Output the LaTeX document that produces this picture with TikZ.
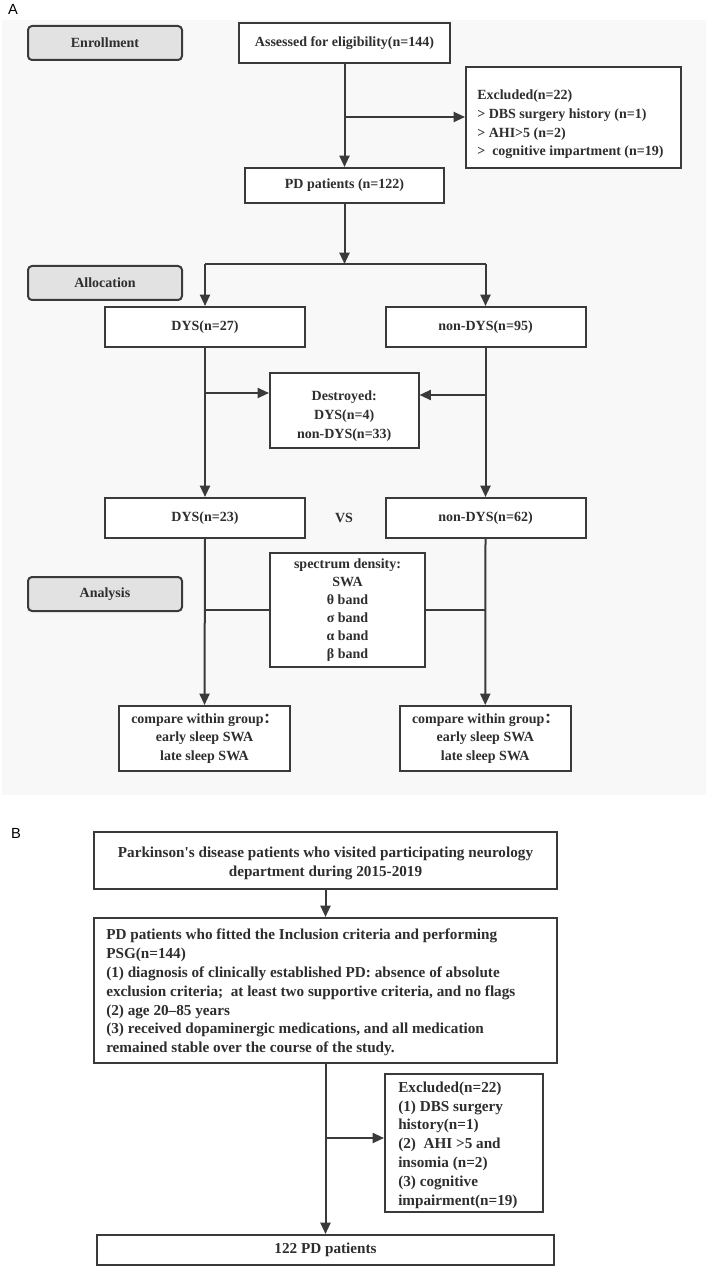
\documentclass[tikz,border=0pt]{standalone}
\usepackage{fontspec}
\setmainfont{Liberation Serif}
\newfontfamily\labelfont{Liberation Sans}
\newfontfamily\cjkfont{Noto Sans CJK SC}
\usetikzlibrary{arrows.meta}
\definecolor{ink}{HTML}{3A3A3A}
\definecolor{txt}{HTML}{2E2E2E}
\definecolor{panelbg}{HTML}{F8F8F8}
\definecolor{tagfill}{HTML}{E2E2E2}
\tikzset{
  every node/.style={text=txt, font=\fontsize{10.5}{13.9}\selectfont\bfseries},
  bfont/.style={font=\fontsize{11.4}{14.1}\selectfont\bfseries},
  box/.style={draw=ink, line width=1.5pt, fill=white, inner sep=0pt, align=center},
  tagbox/.style={draw=ink, line width=1.5pt, fill=tagfill, rounded corners=3pt, inner sep=0pt, align=center, minimum width=115.5pt, minimum height=25.5pt},
  conn/.style={draw=ink, line width=1.5pt},
  arr/.style={conn, -{Triangle[length=8.5pt,width=7.5pt]}},
  txtleft/.style={align=left, inner sep=0pt},
  panellabel/.style={font=\labelfont\fontsize{11}{13}\selectfont, text=black}
}
\begin{document}
\begin{tikzpicture}[x=0.75pt, y=-0.75pt]
\useasboundingbox (0,0) rectangle (709,1269);
\fill[white] (0,0) rectangle (709,1269);
% Panel A background
\fill[panelbg] (2,20) rectangle (706,795);
\node[panellabel] (labA) at (13,9) {A};

% side tags
\node[tagbox] (enroll) at (105,43) {Enrollment};
\node[tagbox] (alloc) at (105,283) {Allocation};
\node[tagbox] (analysis) at (105,594) {Analysis};

% main flow
\node[box, minimum width=158.25pt, minimum height=30pt] (assess) at (344.5,43) {Assessed for eligibility(n=144)};
\node[box, minimum width=161.25pt, minimum height=75.75pt] (excl) at (573.5,117.5) {};
\node[txtleft, anchor=north west] (exclT) at (477,90) {Excluded(n=22)\\
{>} DBS surgery history (n=1)\\
{>} AHI{>}5 (n=2)\\
{>}\ \ cognitive impartment (n=19)};
\node[box, minimum width=149.25pt, minimum height=26.25pt] (pd) at (344.5,185.5) {PD patients (n=122)};

\coordinate (barC) at (344.5,264);
\coordinate (barL) at (205,264);
\coordinate (barR) at (485.5,264);
\coordinate (exclJ) at (344.5,117);

\node[box, minimum width=150pt, minimum height=30pt] (dys27) at (205,327) {DYS(n=27)};
\node[box, minimum width=150pt, minimum height=30pt] (ndys95) at (485.5,327) {non-DYS(n=95)};

\node[box, minimum width=111.4pt, minimum height=56.25pt] (destr) at (344.25,410.5) {};
\node[align=center, inner sep=0pt, font=\fontsize{10.5}{14}\selectfont\bfseries] (destrT) at (344.25,416) {Destroyed:\\DYS(n=4)\\non-DYS(n=33)};

\node[box, minimum width=150pt, minimum height=30pt] (dys23) at (205,518) {DYS(n=23)};
\node[box, minimum width=150pt, minimum height=30pt] (ndys62) at (485.5,518) {non-DYS(n=62)};
\node (vs) at (344,518) {VS};

\node[box, minimum width=116.25pt, minimum height=85.5pt, font=\fontsize{10.5}{13.6}\selectfont\bfseries] (spec) at (347.5,610) {spectrum density:\\SWA\\θ band\\σ band\\α band\\β band};

\node[box, minimum width=128.25pt, minimum height=48.75pt] (cmpL) at (204.5,738.5) {compare within group{\cjkfont\bfseries ：}\\early sleep SWA\\late sleep SWA};
\node[box, minimum width=128.6pt, minimum height=48.75pt] (cmpR) at (485.25,738.5) {compare within group{\cjkfont\bfseries ：}\\early sleep SWA\\late sleep SWA};

\coordinate (dL) at (205,393);
\coordinate (dR) at (485.5,395);
\coordinate (sL) at (205,610);
\coordinate (sR) at (485.5,610);

\draw[arr] (assess.south) -- (pd.north);
\draw[arr] (exclJ) -- (excl.west |- exclJ);
\draw[arr] (pd.south) -- (barC);
\draw[conn] (barL) -- (barR);
\draw[arr] (barL) -- (dys27.north);
\draw[arr] (barR) -- (ndys95.north);
\draw[arr] (dys27.south) -- (dys23.north);
\draw[arr] (ndys95.south) -- (ndys62.north);
\draw[arr] (dL) -- (destr.west |- dL);
\draw[arr] (dR) -- (destr.east |- dR);
\draw[arr] (dys23.south) -- (cmpL.north);
\draw[arr] (ndys62.south) -- (cmpR.north);
\draw[conn] (sL) -- (spec.west |- sL);
\draw[conn] (spec.east |- sR) -- (sR);

% Panel B
\node[panellabel] (labB) at (16,833) {B};
\node[box, minimum width=347.25pt, minimum height=42.75pt] (b1) at (325.5,860.5) {};
\node[bfont, align=center, inner sep=0pt] (b1T) at (325.5,863) {Parkinson\textquotesingle s disease patients who visited participating neurology\\department during 2015-2019};
\node[box, minimum width=347.25pt, minimum height=108.75pt] (b2) at (325.5,990.5) {};
\node[bfont, txtleft, anchor=west] (b2T) at (106,992.5) {PD patients who fitted the Inclusion criteria and performing\\
PSG(n=144)\\
(1) diagnosis of clinically established PD: absence of absolute\\
exclusion criteria;\ \ at least two supportive criteria, and no flags\\
(2) age 20–85 years\\
(3) received dopaminergic medications, and all medication\\
remained stable over the course of the study.};
\node[box, minimum width=118.5pt, minimum height=103.5pt] (b3) at (464,1143) {};
\node[bfont, txtleft, anchor=west] (b3T) at (398,1145) {Excluded(n=22)\\
(1) DBS surgery\\
history(n=1)\\
(2)\ \ AHI {>}5 and\\
insomia (n=2)\\
(3) cognitive\\
impairment(n=19)};
\node[box, bfont, minimum width=342.75pt, minimum height=22.5pt] (b4) at (325.5,1250) {122 PD patients};
\coordinate (bJ) at (325.5,1138);
\draw[arr] (b1.south) -- (b2.north);
\draw[arr] (b2.south) -- (b4.north);
\draw[arr] (bJ) -- (b3.west |- bJ);
\end{tikzpicture}
\end{document}
